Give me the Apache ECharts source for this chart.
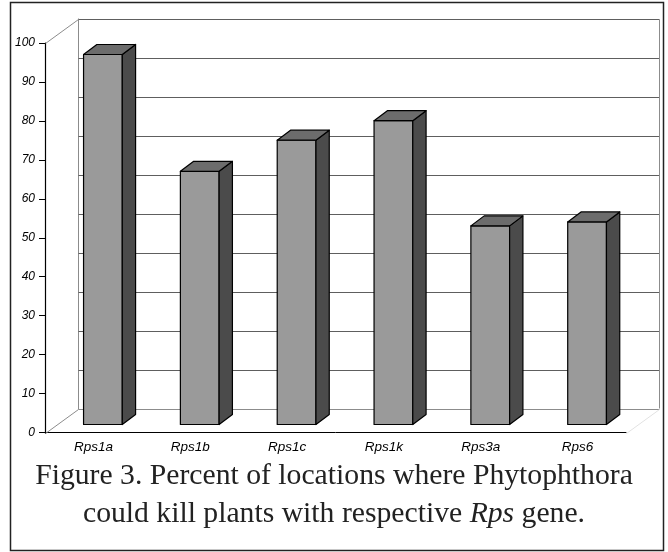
<!DOCTYPE html>
<html>
<head>
<meta charset="utf-8">
<script src="https://cdn.jsdelivr.net/npm/echarts@6/dist/echarts.min.js"></script>
<style>
    html, body { margin: 0; padding: 0; background: #fff; }
    #chart { width: 668px; height: 552px; }
</style>
</head>
<body>
<div id="chart"></div>
<script>
const genes = ['Rps1a', 'Rps1b', 'Rps1c', 'Rps1k', 'Rps3a', 'Rps6'];
const percentKilled = [95, 65, 73, 78, 51, 52];
const yTicks = [0, 10, 20, 30, 40, 50, 60, 70, 80, 90, 100];

// fake 3d look: back wall is shifted up/right from the front plane
const WALL_DX = 33, WALL_DY = 25;
// bars stand a little behind the front edge and have some depth
const BAR_DX = 9.5, BAR_DY = 8, BAR_DEPTH_X = 13.3, BAR_DEPTH_Y = 10;

const chart = echarts.init(document.getElementById('chart'));

function px(v) {
    return Math.round(v) + 0.5;
}

function renderWall(params, api) {
    const cs = params.coordSys;
    const v = api.value(0);
    const yMax = yTicks[yTicks.length - 1];
    const yFront = px(api.coord([0, v])[1]);
    const y = px(yFront - WALL_DY);
    const x0 = px(cs.x + WALL_DX);
    const x1 = px(cs.x + cs.width + WALL_DX);
    const edge = {stroke: '#8c8c8c', lineWidth: 1};
    const children = [{
        type: 'line',
        shape: {x1: x0, y1: y, x2: x1, y2: y},
        style: v === 0 ? edge : {stroke: '#5e5e5e', lineWidth: 1}
    }];
    if (v === 0) {
        const yTop = px(api.coord([0, yMax])[1]);
        children.push(
            {type: 'line', shape: {x1: x0, y1: yTop - WALL_DY, x2: x0, y2: y}, style: edge},
            {type: 'line', shape: {x1: px(cs.x), y1: yFront, x2: x0, y2: y}, style: edge},
            {type: 'line', shape: {x1: px(cs.x + cs.width), y1: yFront, x2: x1, y2: y},
                style: {stroke: '#e2e2e2', lineWidth: 1}},
            // front value axis line
            {type: 'line', shape: {x1: px(cs.x), y1: yTop, x2: px(cs.x), y2: yFront},
                style: {stroke: '#000', lineWidth: 1.2}, z2: 10}
        );
    }
    if (v === yMax) {
        const yBot = px(api.coord([0, 0])[1] - WALL_DY);
        children.push(
            {type: 'line', shape: {x1: x1, y1: y, x2: x1, y2: yBot}, style: edge},
            {type: 'line', shape: {x1: px(cs.x), y1: yFront, x2: x0, y2: y}, style: edge}
        );
    }
    return {type: 'group', children: children};
}

function renderBar(params, api) {
    const idx = api.value(0);
    const val = api.value(1);
    const band = api.size([1, 0])[0];
    const w = band * 0.4;
    const base = api.coord([idx, 0]);
    const top = api.coord([idx, val]);
    const xl = base[0] - w / 2 + BAR_DX;
    const xr = xl + w;
    const yb = base[1] - BAR_DY;
    const yt = top[1] - BAR_DY;
    const dx = BAR_DEPTH_X, dy = BAR_DEPTH_Y;
    const line = {stroke: '#000', lineWidth: 1.2, lineJoin: 'round'};
    return {
        type: 'group',
        children: [
            {type: 'polygon', shape: {points: [[xl, yt], [xr, yt], [xr, yb], [xl, yb]]},
                style: Object.assign({fill: '#9a9a9a'}, line)},
            {type: 'polygon', shape: {points: [[xr, yt], [xr + dx, yt - dy], [xr + dx, yb - dy], [xr, yb]]},
                style: Object.assign({fill: '#4b4b4b'}, line)},
            {type: 'polygon', shape: {points: [[xl, yt], [xl + dx, yt - dy], [xr + dx, yt - dy], [xr, yt]]},
                style: Object.assign({fill: '#6c6c6c'}, line)}
        ]
    };
}

const labelStyle = {
    fontFamily: 'Liberation Sans',
    fontStyle: 'italic',
    fontSize: 12,
    color: '#000'
};

const captionFont = {
    fontFamily: 'Liberation Serif',
    fontSize: 29.7,
    fontWeight: 'normal',
    color: '#222',
    lineHeight: 38,
    align: 'center'
};

const option = {
    animation: false,
    title: {
        left: 'center',
        top: 452,
        text: '{a|Figure 3. Percent of locations where Phytophthora}\n' +
            '{a|could kill plants with respective }{i|Rps}{a| gene.}',
        textStyle: {
            fontWeight: 'normal',
            rich: {
                a: captionFont,
                i: Object.assign({}, captionFont, {fontStyle: 'italic'})
            }
        }
    },
    graphic: [{
        type: 'rect',
        shape: {x: 10.5, y: 2.5, width: 653, height: 548},
        style: {fill: 'none', stroke: '#222', lineWidth: 1.5},
        z: 100
    }],
    grid: {
        left: 45,
        right: 42,
        top: 43,
        bottom: 119.5
    },
    xAxis: {
        type: 'category',
        data: genes,
        axisLine: {lineStyle: {color: '#000', width: 1}},
        axisTick: {length: 6, lineStyle: {color: '#000'}},
        axisLabel: Object.assign({}, labelStyle, {margin: 8, fontSize: 13.5}),
        splitLine: {show: false}
    },
    yAxis: {
        type: 'value',
        min: 0,
        max: 100,
        interval: 10,
        axisLine: {show: true, onZero: false, lineStyle: {color: '#000', width: 1}},
        axisTick: {show: true, length: 6, lineStyle: {color: '#000'}},
        axisLabel: Object.assign({margin: 10}, labelStyle),
        splitLine: {show: false}
    },
    series: [
        {
            type: 'custom',
            renderItem: renderWall,
            data: yTicks.map(v => [v]),
            encode: {y: 0},
            silent: true,
            z: 1
        },
        {
            type: 'custom',
            renderItem: renderBar,
            data: percentKilled.map((v, i) => [i, v]),
            encode: {x: 0, y: 1},
            z: 5
        }
    ]
};

chart.setOption(option);
</script>
</body>
</html>
